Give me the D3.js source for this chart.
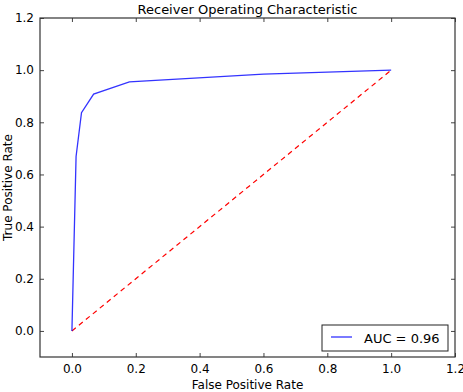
<!DOCTYPE html>
<html>
<head>
<meta charset="utf-8">
<script src="https://cdn.jsdelivr.net/npm/d3@7"></script>
<style>
  body { margin: 0; background: #fff; }
  text { font-family: "DejaVu Sans", sans-serif; }
</style>
</head>
<body>
<div id="chart"></div>
<script>
const width = 463;
const height = 392;

// ROC curve points
const fpr = [0.0, 0.013, 0.03, 0.068, 0.18, 0.6, 1.0];
const tpr = [0.0, 0.669, 0.837, 0.908, 0.955, 0.985, 1.0];
const chanceLine = [0, 1];
const tickValues = [0.0, 0.2, 0.4, 0.6, 0.8, 1.0, 1.2];
const aucLabel = "AUC = 0.96";

const margin = { top: 18, right: 8, bottom: 35, left: 40 };
const innerW = width - margin.left - margin.right;
const innerH = height - margin.top - margin.bottom;

const svg = d3
  .select("#chart")
  .append("svg")
  .attr("width", width)
  .attr("height", height);

const g = svg.append("g").attr("transform", `translate(${margin.left},${margin.top})`);

const x = d3.scaleLinear().domain([-0.1, 1.2]).range([0, innerW]);
const y = d3.scaleLinear().domain([-0.1, 1.2]).range([innerH, 0]);

// chance diagonal
g.append("path")
  .datum(chanceLine)
  .attr("fill", "none")
  .attr("stroke", "#ff0000")
  .attr("stroke-width", 1.2)
  .attr("stroke-dasharray", "5,4")
  .attr("d", d3.line().x((d) => x(d)).y((d) => y(d)));

// ROC curve
const rocData = fpr.map((f, i) => [f, tpr[i]]);
g.append("path")
  .datum(rocData)
  .attr("fill", "none")
  .attr("stroke", "#0000ff")
  .attr("stroke-width", 1.3)
  .attr("opacity", 0.8)
  .attr("d", d3.line().x((d) => x(d[0])).y((d) => y(d[1])));

// axes with inward ticks on all four sides
const fmt = d3.format(".1f");
function styleAxis(sel) {
  sel.select(".domain").remove();
  sel.selectAll(".tick line").attr("stroke", "#444");
  sel.selectAll(".tick text").attr("fill", "#000").style("font-size", "12px");
}

g.append("g")
  .attr("transform", `translate(0,${innerH})`)
  .call(d3.axisBottom(x).tickValues(tickValues).tickFormat(fmt).tickSizeInner(-4).tickSizeOuter(0).tickPadding(7))
  .call(styleAxis);

g.append("g")
  .call(d3.axisTop(x).tickValues(tickValues).tickFormat("").tickSizeInner(-4).tickSizeOuter(0))
  .call(styleAxis);

g.append("g")
  .call(d3.axisLeft(y).tickValues(tickValues).tickFormat(fmt).tickSizeInner(-4).tickSizeOuter(0).tickPadding(6))
  .call(styleAxis);

g.append("g")
  .attr("transform", `translate(${innerW},0)`)
  .call(d3.axisRight(y).tickValues(tickValues).tickFormat("").tickSizeInner(-4).tickSizeOuter(0))
  .call(styleAxis);

// frame
g.append("rect")
  .attr("width", innerW)
  .attr("height", innerH)
  .attr("fill", "none")
  .attr("stroke", "#333")
  .attr("stroke-width", 1.2);

// title and labels
svg.append("text")
  .attr("x", margin.left + innerW / 2)
  .attr("y", 14)
  .attr("text-anchor", "middle")
  .style("font-size", "13px")
  .text("Receiver Operating Characteristic");

svg.append("text")
  .attr("x", margin.left + innerW / 2)
  .attr("y", 389)
  .attr("text-anchor", "middle")
  .style("font-size", "12px")
  .text("False Positive Rate");

svg.append("text")
  .attr("transform", `translate(12,${margin.top + innerH / 2}) rotate(-90)`)
  .attr("text-anchor", "middle")
  .style("font-size", "12px")
  .text("True Positive Rate");

// legend
const legend = g.append("g").attr("transform", `translate(${innerW - 133},${innerH - 32})`);
legend.append("rect")
  .attr("width", 126)
  .attr("height", 26)
  .attr("fill", "#fff")
  .attr("stroke", "#222")
  .attr("stroke-width", 1);
legend.append("line")
  .attr("x1", 9).attr("x2", 30)
  .attr("y1", 12).attr("y2", 12)
  .attr("stroke", "#0000ff")
  .attr("stroke-width", 1.3)
  .attr("opacity", 0.8);
legend.append("text")
  .attr("x", 42)
  .attr("y", 18)
  .style("font-size", "13px")
  .text(aucLabel);
</script>
</body>
</html>
